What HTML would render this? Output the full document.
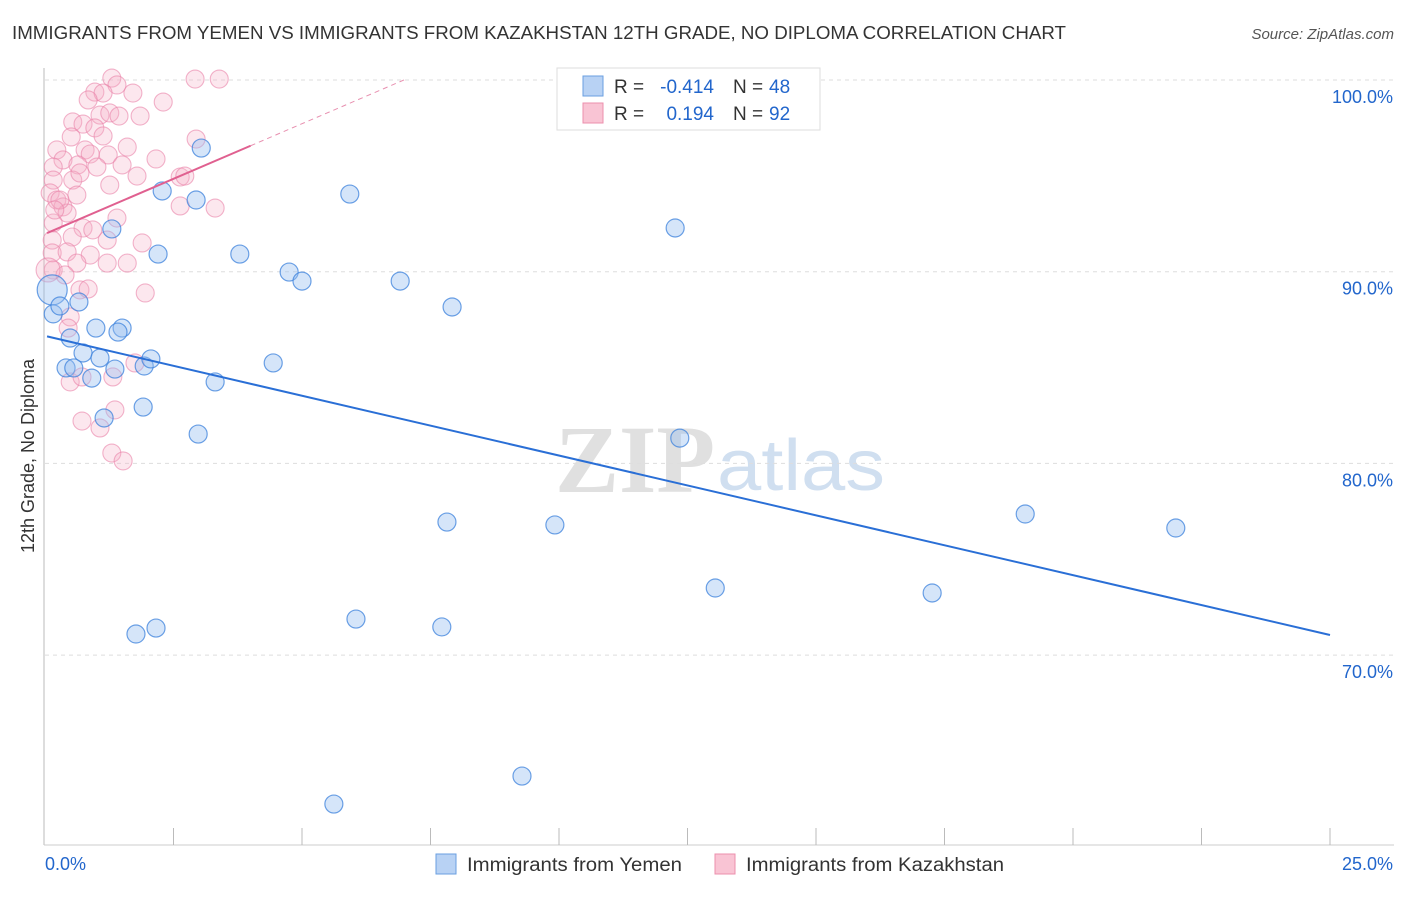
<!DOCTYPE html>
<html><head><meta charset="utf-8"><style>
body{margin:0;background:#fff;font-family:"Liberation Sans",sans-serif}
</style></head><body>
<svg id="chart" width="1406" height="892" xmlns="http://www.w3.org/2000/svg" font-family="Liberation Sans, sans-serif">
<text x="12" y="39" font-size="18" fill="#333" textLength="1054" lengthAdjust="spacingAndGlyphs">IMMIGRANTS FROM YEMEN VS IMMIGRANTS FROM KAZAKHSTAN 12TH GRADE, NO DIPLOMA CORRELATION CHART</text>
<text x="1394" y="39" font-size="15" fill="#555" text-anchor="end" font-style="italic">Source: ZipAtlas.com</text>
<text transform="translate(34,456) rotate(-90)" font-size="18" fill="#333" text-anchor="middle">12th Grade, No Diploma</text>
<text x="555" y="492" font-size="96" fill="#e0e0e0" font-family="Liberation Serif, serif" font-weight="bold" textLength="160" lengthAdjust="spacingAndGlyphs">ZIP</text>
<text x="717" y="490" font-size="72" fill="#d0dff0" textLength="168" lengthAdjust="spacingAndGlyphs">atlas</text>
<g id="grid"></g><g id="axes"></g><g id="pts"></g><g id="lines"></g>
<g>
<rect x="557" y="68" width="263" height="62" fill="#fff" stroke="#ddd"/>
<rect x="583" y="76" width="20" height="20" fill="#b8d2f4" stroke="#6a9fe0"/>
<rect x="583" y="103" width="20" height="20" fill="#f9c4d4" stroke="#ec8fad"/>
<text x="614" y="93" font-size="19" fill="#333">R =</text>
<text x="714" y="93" font-size="19" fill="#2266cc" text-anchor="end">-0.414</text>
<text x="733" y="93" font-size="19" fill="#333">N =</text>
<text x="769" y="93" font-size="19" fill="#2266cc">48</text>
<text x="614" y="120" font-size="19" fill="#333">R =</text>
<text x="714" y="120" font-size="19" fill="#2266cc" text-anchor="end">0.194</text>
<text x="733" y="120" font-size="19" fill="#333">N =</text>
<text x="769" y="120" font-size="19" fill="#2266cc">92</text>
</g>
<g>
<rect x="436" y="854" width="20" height="20" fill="#b8d2f4" stroke="#6a9fe0"/>
<text x="467" y="871" font-size="19" fill="#333" textLength="215" lengthAdjust="spacingAndGlyphs">Immigrants from Yemen</text>
<rect x="715" y="854" width="20" height="20" fill="#f9c4d4" stroke="#ec8fad"/>
<text x="746" y="871" font-size="19" fill="#333" textLength="258" lengthAdjust="spacingAndGlyphs">Immigrants from Kazakhstan</text>
</g>
</svg>
<script>
const yTicks=[100,90,80,70];
const xTickLabels=["0.0%","25.0%"];
const blueX=[0.14,0.16,0.29,0.66,0.49,0.99,1.50,1.42,0.74,1.07,0.41,0.56,0.91,1.36,1.93,2.06,1.91,1.15,2.98,3.31,4.44,2.28,3.04,2.94,1.30,2.20,3.79,4.75,5.00,5.93,6.91,7.92,12.26,12.35,7.82,9.92,13.04,17.26,19.07,22.00,1.77,2.16,6.05,7.72,9.28,5.62];
const blueY=[89.05,87.80,88.21,88.42,86.54,87.06,87.06,86.85,85.76,85.50,84.98,84.98,84.45,84.92,85.08,85.45,82.94,82.37,81.53,84.25,85.24,94.21,96.45,93.74,92.23,90.92,90.92,89.98,89.51,94.05,89.51,88.16,92.28,81.32,76.94,76.79,73.50,73.24,77.36,76.63,71.10,71.41,71.88,71.47,63.69,62.23];
const pinkX=[1.30,1.40,0.97,1.13,0.84,1.71,2.30,2.92,3.39,1.07,1.26,1.44,1.85,0.54,0.74,0.97,0.51,1.13,2.94,0.23,1.60,0.78,0.88,1.23,0.35,0.16,0.64,1.01,1.50,2.16,0.16,0.54,0.68,1.79,2.63,2.72,1.26,0.62,0.10,0.23,0.35,0.43,2.63,3.31,1.40,0.16,0.74,0.93,0.53,1.21,1.89,0.14,0.14,0.43,0.88,0.62,1.21,1.60,0.16,0.39,0.68,0.84,1.95,0.49,0.45,1.75,0.49,0.72,1.32,1.36,0.72,1.07,1.30,1.52,0.06,0.29,0.19];
const pinkY=[100.10,99.74,99.37,99.32,98.96,99.32,98.85,100.05,100.05,98.17,98.28,98.12,98.12,97.81,97.70,97.50,97.03,97.08,96.92,96.35,96.50,96.35,96.14,96.09,95.83,95.46,95.57,95.46,95.57,95.88,94.78,94.78,95.15,94.99,94.94,94.99,94.52,94.00,94.11,93.74,93.38,93.06,93.43,93.32,92.80,92.54,92.28,92.18,91.81,91.65,91.50,91.65,90.98,91.03,90.87,90.45,90.45,90.45,90.09,89.83,89.05,89.10,88.89,87.64,87.06,85.24,84.25,84.51,84.51,82.79,82.21,81.85,80.54,80.13,90.09,93.74,93.22];
const blueTrend=[86.65,-0.624];
const pinkTrend=[91.97,1.15];
const NS="http://www.w3.org/2000/svg";
const X=v=>45+v*51.4, Y=v=>80+(100-v)*19.17;
function mk(tag,attrs,parent){const e=document.createElementNS(NS,tag);for(const k in attrs)e.setAttribute(k,attrs[k]);document.getElementById(parent).appendChild(e);return e;}
yTicks.forEach(t=>{
 const l=mk('line',{x1:45,x2:1394,y1:Y(t),y2:Y(t),stroke:'#ddd','stroke-dasharray':'4,4'},'grid');
 
 
 const tx=mk('text',{x:1393,y:Y(t)+23,'font-size':18,fill:'#2266cc','text-anchor':'end'},'grid');
 tx.textContent=t.toFixed(1)+'%';
 
 
});
const ax=mk('line',{x1:44,x2:44,y1:68,y2:845,stroke:'#bbb'},'axes');


const bx=mk('line',{x1:44,x2:1394,y1:845,y2:845,stroke:'#ccc'},'axes');


for(let i=1;i<=10;i++){const v=i*2.5;const t=mk('line',{x1:X(v),x2:X(v),y1:828,y2:845,stroke:'#bbb'},'axes');
 
 }
const l0=mk('text',{x:45,y:870,'font-size':18,fill:'#2266cc'},'axes');l0.textContent=xTickLabels[0];


const l1=mk('text',{x:1393,y:870,'font-size':18,fill:'#2266cc','text-anchor':'end'},'axes');l1.textContent=xTickLabels[1];


pinkX.forEach((x,i)=>{const c=mk('circle',{cx:X(x),cy:Y(pinkY[i]),r:i==74?12:9,fill:'rgba(246,175,200,0.3)',stroke:'rgba(234,130,168,0.6)','stroke-width':1.1},'pts');
 
 });
blueX.forEach((x,i)=>{const c=mk('circle',{cx:X(x),cy:Y(blueY[i]),r:i==0?15:9,fill:'rgba(150,190,240,0.4)',stroke:'rgba(60,130,220,0.75)','stroke-width':1.2},'pts');
 
 });
const bl=mk('line',{x1:X(0.04),y1:Y(blueTrend[0]+blueTrend[1]*0.04),x2:X(25),y2:Y(blueTrend[0]+blueTrend[1]*25),stroke:'#2a6fd6','stroke-width':2},'lines');


const pl=mk('line',{x1:X(0.04),y1:Y(pinkTrend[0]+pinkTrend[1]*0.04),x2:X(4),y2:Y(pinkTrend[0]+pinkTrend[1]*4),stroke:'#e06090','stroke-width':2},'lines');


const pd=mk('line',{x1:X(4),y1:Y(pinkTrend[0]+pinkTrend[1]*4),x2:X(7),y2:Y(pinkTrend[0]+pinkTrend[1]*7),stroke:'#e890b0','stroke-width':1,'stroke-dasharray':'5,4'},'lines');


</script>
</body></html>
